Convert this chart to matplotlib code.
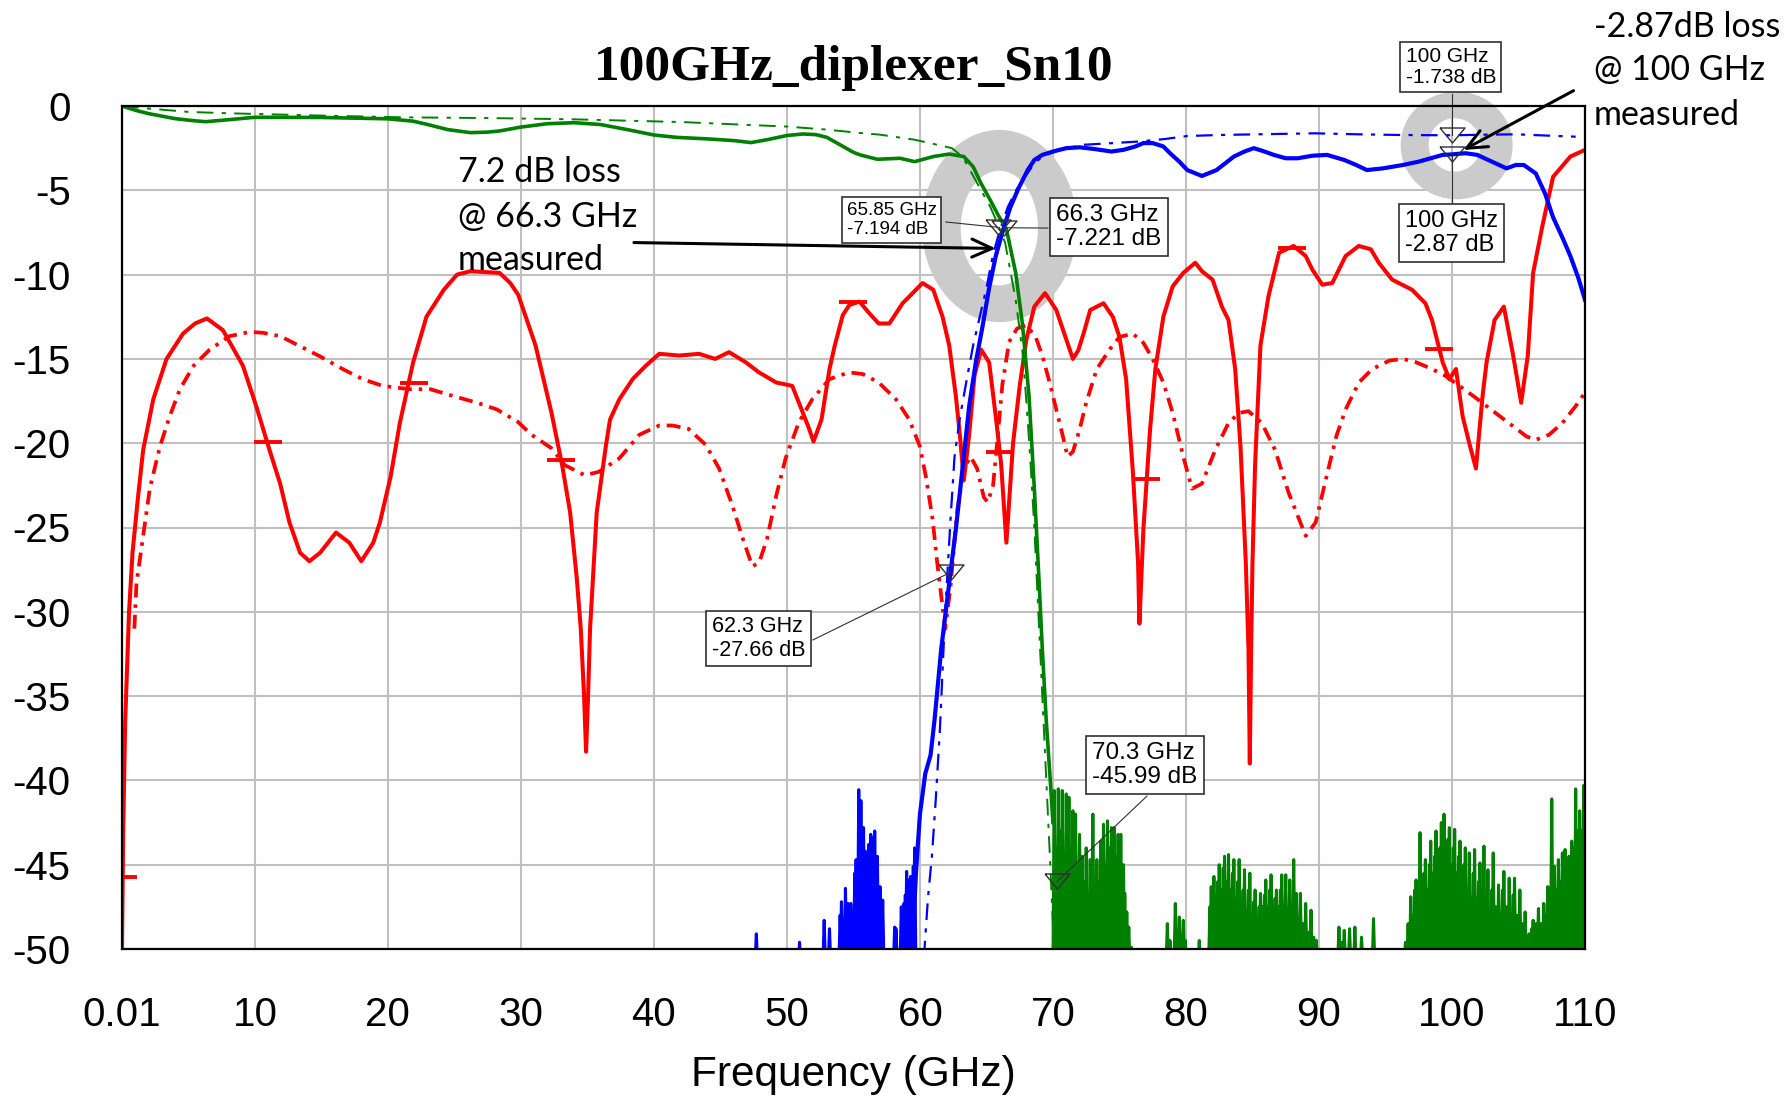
import numpy as np
import matplotlib

matplotlib.use("Agg")
import matplotlib.pyplot as plt
from matplotlib.path import Path
from matplotlib.patches import PathPatch

plt.rcParams["axes.unicode_minus"] = False
plt.rcParams["lines.scale_dashes"] = False

# S21 measured (low band, green solid)
s21_f = [0.01, 1, 2, 3, 4, 5.5, 6.3, 7.5, 10, 15, 20, 21.9, 23, 24.5, 26.2, 27.5, 28.4,
         30, 32, 34, 36, 38, 40, 41.7, 44, 46, 47.3, 48.5, 50, 51.2, 52.2, 53, 54, 55,
         55.5, 56.8, 58.5, 59.6, 61, 62.2, 63.3, 64.0, 64.6, 65.3, 65.9, 66.5, 67.2,
         67.7, 68.2, 68.6, 68.95, 69.2, 69.5, 69.8, 70.0]
s21_db = [0.0, -0.25, -0.45, -0.6, -0.75, -0.88, -0.93, -0.85, -0.67, -0.68, -0.76, -0.9,
          -1.1, -1.4, -1.58, -1.55, -1.48, -1.25, -1.05, -0.99, -1.1, -1.4, -1.72, -1.86,
          -1.95, -2.05, -2.17, -2.0, -1.75, -1.66, -1.7, -1.86, -2.3, -2.75, -2.9, -3.16,
          -3.1, -3.3, -3.0, -2.85, -3.0, -3.6, -4.6, -5.6, -6.5, -7.3, -9.9, -12.9, -17.2,
          -22.7, -28.1, -32.2, -36.5, -40.0, -42.5]

# S21 measured noise floor above 70 GHz (spike tops)
s21_noise_f = [70.1, 70.25, 70.4, 70.55, 70.7, 70.85, 71.0, 71.1, 71.2, 71.35, 71.5, 71.6,
               71.7, 71.85, 72.0, 72.1, 72.2, 72.35, 72.5, 72.65, 72.8, 73.0, 73.15, 73.3,
               73.45, 73.6, 73.8, 73.95, 74.1, 74.25, 74.4, 74.5, 74.6, 74.75, 74.9, 75.0,
               75.1, 75.3, 75.4, 75.55, 75.7, 75.9,
               78.6, 78.8, 79.2, 79.35, 79.5, 79.8, 79.95, 81.0,
               81.8, 81.9, 82.0, 82.1, 82.25, 82.4, 82.5, 82.65, 82.8, 82.9, 83.05, 83.2,
               83.35, 83.5, 83.6, 83.75, 83.9, 84.0, 84.15, 84.3, 84.4, 84.55, 84.7, 84.8,
               84.95, 85.1, 85.2, 85.35, 85.5, 85.6, 85.75, 85.9, 86.0, 86.15, 86.3, 86.4,
               86.55, 86.7, 86.8, 86.95, 87.1, 87.2, 87.35, 87.5, 87.65, 87.8, 87.95, 88.1,
               88.2, 88.3, 88.45, 88.6, 88.8, 89.0, 89.2, 89.4, 89.6, 89.8,
               91.5, 91.7, 91.9, 92.3, 92.7, 93.2, 94.1,
               96.5, 96.7, 96.9, 97.05, 97.2, 97.3, 97.45, 97.6, 97.75, 97.9, 98.0, 98.15,
               98.3, 98.4, 98.55, 98.7, 98.8, 98.95, 99.1, 99.2, 99.3, 99.4, 99.55, 99.7,
               99.8, 99.95, 100.1, 100.2, 100.35, 100.5, 100.6, 100.75, 100.9, 101.0,
               101.15, 101.3, 101.45, 101.6, 101.7, 101.85, 102.0, 102.1, 102.25, 102.4,
               102.55, 102.7, 102.85, 103.0, 103.1, 103.3, 103.5, 103.65, 103.8, 103.9,
               104.1, 104.3, 104.45, 104.6, 104.7, 104.9, 105.1, 105.3, 105.5, 105.65,
               105.8, 106.0, 106.1, 106.3, 106.5, 106.7, 106.9, 107.05, 107.2, 107.35,
               107.5, 107.6, 107.7, 107.85, 108.0, 108.15, 108.3, 108.4, 108.5, 108.65,
               108.8, 108.9, 109.0, 109.15, 109.3, 109.45, 109.6, 109.75, 109.9, 110.0]
s21_noise_db = [-40.6, -44.0, -40.5, -43.0, -40.6, -45.0, -40.8, -46.0, -41.0, -44.0, -41.8,
                -46.0, -42.0, -45.0, -43.2, -48.0, -44.5, -46.0, -44.0, -47.0, -44.7, -42.0,
                -46.5, -44.7, -46.0, -43.6, -42.6, -45.0, -42.4, -44.0, -42.8, -45.5, -42.8,
                -44.5, -43.2, -45.0, -43.2, -45.0, -46.7, -47.8, -48.7, -49.9,
                -48.5, -49.5, -47.3, -48.8, -48.1, -48.3, -49.5, -49.5,
                -47.5, -46.3, -47.5, -45.7, -46.8, -46.0, -45.0, -46.5, -45.2, -44.5, -46.0,
                -44.4, -46.5, -45.5, -44.7, -47.0, -46.0, -44.7, -47.5, -46.5, -45.3, -48.0,
                -46.5, -45.5, -48.0, -47.2, -46.5, -48.5, -47.5, -46.7, -47.5, -46.8, -45.9,
                -47.5, -46.5, -45.6, -48.0, -47.0, -46.5, -47.5, -46.5, -45.6, -47.5, -45.6,
                -48.0, -45.9, -48.5, -44.7, -48.0, -46.7, -48.5, -46.7, -48.5, -47.3, -49.0,
                -47.7, -49.3, -49.5,
                -48.7, -49.6, -48.9, -48.8, -48.7, -49.3, -48.2,
                -49.6, -48.5, -46.9, -48.0, -46.5, -45.9, -47.0, -43.1, -46.0, -45.5, -44.7,
                -46.5, -45.0, -43.6, -45.5, -44.5, -43.0, -45.0, -44.0, -42.5, -44.5, -42.0,
                -44.0, -43.5, -42.8, -45.0, -44.0, -42.9, -45.5, -44.5, -43.6, -46.0, -45.0,
                -44.0, -46.5, -44.3, -47.0, -45.5, -44.1, -47.0, -46.0, -44.9, -47.5, -43.9,
                -47.0, -45.3, -48.0, -46.5, -44.3, -47.5, -46.2, -48.0, -46.5, -45.4, -47.5,
                -45.8, -48.0, -46.8, -45.8, -48.0, -46.5, -48.5, -47.8, -49.2, -49.1, -48.8,
                -48.3, -48.5, -47.6, -48.5, -47.3, -48.0, -46.3, -47.5, -41.1, -46.5, -45.1,
                -46.5, -44.7, -46.0, -44.3, -46.0, -44.1, -45.5, -44.5, -45.0, -43.6, -44.0,
                -40.5, -43.0, -41.8, -43.0, -40.3, -41.0]

# S21 simulated (green dash-dot)
s21_sim_f = [0.01, 2, 5, 8, 14, 21, 28, 34, 42, 50, 53, 55.5, 57, 59.6, 61.3, 62.4, 63.2,
             63.9, 64.6, 65.3, 65.85, 66.4, 67.2, 67.7, 68.0, 68.3, 68.6, 68.9, 69.2, 69.5,
             69.8, 70.1]
s21_sim_db = [0.0, -0.15, -0.35, -0.43, -0.55, -0.67, -0.72, -0.79, -0.95, -1.22, -1.4,
              -1.6, -1.7, -2.0, -2.3, -2.5, -3.0, -4.0, -5.0, -6.0, -7.0, -8.1, -11.5, -14.5,
              -17.5, -21.0, -25.0, -30.0, -35.0, -40.0, -45.0, -50.5]

# S31 measured (high band, blue solid)
s31_f = [59.4, 59.7, 60.0, 60.4, 60.8, 61.1, 61.6, 62.0, 62.3, 62.7, 63.2, 63.7, 64.2, 64.7,
         65.2, 65.7, 66.3, 66.8, 67.4, 68.1, 68.6, 69.2, 70.0, 71.0, 72.0, 73.1, 74.4, 75.3,
         76.2, 76.8, 77.5, 78.3, 78.8, 79.5, 80.1, 81.2, 82.3, 83.6, 84.4, 85.1, 85.9, 86.6,
         87.5, 88.4, 89.5, 90.6, 91.9, 92.8, 93.6, 94.8, 96.3, 97.5, 98.4, 99.3, 100.0,
         101.0, 101.9, 103.0, 104.1, 104.8, 105.4, 106.3, 107.0, 107.6, 108.3, 108.9, 109.5,
         110.0]
s31_db = [-50.5, -45.5, -42.0, -39.6, -38.5, -36.4, -32.2, -29.6, -27.66, -25.1, -21.5,
          -17.8, -15.2, -13.1, -10.8, -8.9, -7.221, -6.0, -4.9, -3.8, -3.2, -2.9, -2.7, -2.5,
          -2.45, -2.55, -2.7, -2.6, -2.4, -2.2, -2.2, -2.4, -2.8, -3.3, -3.8, -4.15, -3.8,
          -3.0, -2.7, -2.5, -2.7, -2.9, -3.1, -3.1, -2.95, -2.9, -3.2, -3.5, -3.8, -3.7, -3.5,
          -3.3, -3.1, -2.9, -2.87, -2.8, -2.9, -3.3, -3.7, -3.5, -3.5, -4.0, -5.2, -6.6, -7.8,
          -8.9, -10.2, -11.5]

# S31 measured noise below 60 GHz (spike tops)
s31_noise_f = [47.7, 50.95, 52.8, 53.2, 54.0, 54.1, 54.25, 54.4, 54.5, 54.6, 54.7, 54.8,
               54.95, 55.1, 55.2, 55.3, 55.4, 55.5, 55.56, 55.65, 55.76, 55.85, 55.9, 56.0,
               56.1, 56.15, 56.3, 56.4, 56.45, 56.55, 56.6, 56.7, 56.8, 56.9, 57.0, 57.1,
               57.2, 58.1, 58.2, 58.6, 58.7, 58.8, 58.9, 59.0, 59.1, 59.2, 59.3, 59.4, 59.5,
               59.6]
s31_noise_db = [-49.1, -49.6, -48.3, -48.8, -48.0, -47.2, -48.2, -46.4, -47.8, -47.3, -48.5,
                -47.3, -47.8, -45.5, -44.7, -46.5, -40.55, -43.0, -41.2, -44.5, -42.8, -45.5,
                -44.2, -44.4, -46.5, -43.8, -43.2, -45.5, -43.4, -46.0, -43.0, -45.5, -44.5,
                -47.0, -46.3, -48.0, -47.1, -48.7, -48.8, -47.5, -48.5, -47.3, -46.8, -45.4,
                -46.5, -45.9, -45.7, -46.5, -45.1, -44.0]

# S31 simulated (blue dash-dot)
s31_sim_f = [60.3, 60.6, 60.9, 61.2, 61.5, 61.9, 62.3, 62.6, 63.0, 63.5, 64.0, 64.5, 65.0,
             65.5, 66.0, 66.6, 67.3, 67.9, 68.6, 69.2, 70.5, 72.3, 74.5, 76.6, 78.5, 80.1,
             82.5, 85.3, 89.7, 93.0, 96.2, 100.0, 102.5, 104.9, 107.0, 109.3]
s31_sim_db = [-50.5, -47.0, -44.5, -41.0, -37.0, -30.0, -24.5, -20.8, -18.5, -16.3, -14.2,
              -12.5, -10.8, -8.8, -7.4, -6.0, -4.9, -4.2, -3.4, -3.0, -2.6, -2.3, -2.2, -2.1,
              -1.95, -1.78, -1.72, -1.68, -1.62, -1.68, -1.72, -1.738, -1.7, -1.68, -1.75,
              -1.82]

# S11 measured (red solid)
s11_f = [0.01, 0.1, 0.25, 0.54, 0.8, 1.2, 1.6, 2.36, 3.36, 4.6, 5.5, 6.4, 7.6, 9.1, 10.1,
         11.1, 11.9, 12.6, 13.4, 14.1, 14.9, 16.1, 17.1, 18.0, 18.9, 19.4, 20.2, 20.9, 21.9,
         22.9, 24.2, 25.2, 26.2, 28.4, 29.2, 29.8, 31.1, 32.3, 33.1, 33.7, 34.2, 34.5, 34.75,
         34.9, 35.05, 35.2, 35.7, 36.4, 36.7, 37.4, 38.4, 39.4, 40.4, 41.9, 43.4, 44.6,
         45.65, 46.9, 47.9, 49.2, 50.4, 51.1, 51.6, 52.0, 52.6, 53.2, 53.6, 54.2, 54.7,
         55.45, 56.2, 56.9, 57.7, 58.7, 60.2, 61.0, 61.7, 62.2, 62.7, 63.0, 63.3, 63.7, 64.1,
         64.6, 65.2, 65.7, 66.1, 66.5, 67.0, 67.5, 68.0, 68.6, 69.4, 69.75, 70.25, 71.0,
         71.5, 71.9, 72.3, 72.8, 73.8, 74.5, 75.0, 75.5, 76.0, 76.4, 76.5, 76.8, 77.3, 77.7,
         78.3, 79.0, 79.8, 80.7, 81.2, 82.0, 82.7, 83.2, 83.7, 84.1, 84.5, 84.7, 84.8, 84.9,
         85.0, 85.2, 85.6, 86.2, 87.0, 88.1, 89.0, 89.5, 90.25, 91.0, 92.0, 93.0, 93.9, 94.5,
         95.5, 97.0, 98.0, 98.5, 99.3, 99.8, 100.3, 100.8, 101.3, 101.8, 102.3, 102.6, 103.2,
         103.9, 104.6, 105.2, 105.7, 106.1, 106.8, 107.6, 108.9, 110.0]
s11_db = [-50.0, -43.0, -36.5, -30.0, -26.5, -23.3, -20.4, -17.4, -15.0, -13.5, -12.9, -12.6,
          -13.3, -15.4, -17.8, -20.4, -22.4, -24.7, -26.5, -27.0, -26.5, -25.3, -25.9, -27.0,
          -25.9, -24.7, -22.0, -18.8, -15.2, -12.5, -10.9, -10.0, -9.8, -9.9, -10.5, -11.2,
          -14.2, -18.2, -21.3, -24.1, -28.0, -31.0, -35.0, -38.3, -35.0, -31.0, -24.1, -20.1,
          -18.6, -17.4, -16.2, -15.4, -14.7, -14.8, -14.7, -15.0, -14.6, -15.2, -15.8, -16.4,
          -16.6, -18.0, -19.0, -19.9, -18.6, -15.6, -14.2, -12.4, -11.8, -11.6, -12.3, -12.9,
          -12.9, -11.7, -10.5, -10.9, -12.5, -14.2, -17.2, -19.5, -22.2, -19.5, -16.0, -14.45,
          -15.2, -18.4, -21.2, -25.9, -20.0, -16.6, -13.85, -11.9, -11.1, -11.5, -12.1, -13.85,
          -15.0, -14.5, -13.5, -12.1, -11.7, -12.5, -13.7, -16.2, -21.6, -27.1, -30.7, -25.1,
          -19.2, -15.6, -12.5, -10.7, -9.9, -9.3, -9.8, -10.3, -11.9, -12.7, -15.6, -20.2,
          -27.1, -32.2, -39.0, -32.2, -27.1, -21.2, -14.2, -11.3, -8.7, -8.3, -8.9, -9.7,
          -10.6, -10.5, -8.9, -8.3, -8.5, -9.3, -10.3, -10.9, -11.7, -12.7, -15.2, -16.2,
          -15.6, -18.4, -20.0, -21.5, -17.2, -15.2, -12.7, -11.9, -14.8, -17.6, -14.8, -9.9,
          -7.1, -4.2, -3.0, -2.6]

# S11 simulated (red dash-dot)
s11_sim_f = [0.94, 1.1, 1.6, 2.1, 2.86, 3.6, 4.36, 5.4, 6.6, 8.1, 9.6, 10.6, 11.9, 13.4,
             14.9, 16.6, 18.1, 19.6, 21.65, 23.2, 24.9, 26.7, 28.2, 29.8, 30.8, 32.3, 33.3,
             34.8, 35.85, 37.4, 38.9, 40.4, 41.4, 42.6, 43.9, 44.9, 45.9, 46.7, 47.4, 47.9,
             48.5, 49.2, 49.9, 50.9, 51.9, 53.2, 53.9, 54.7, 55.7, 56.9, 58.2, 59.2, 60.0,
             60.45, 60.95, 61.3, 61.9, 62.3, 62.8, 63.3, 63.8, 64.3, 64.8, 65.1, 65.5, 65.8,
             66.2, 66.7, 67.3, 68.0, 68.7, 69.2, 69.75, 70.25, 70.75, 71.1, 71.5, 72.0, 72.5,
             73.3, 74.3, 75.0, 76.0, 76.8, 77.5, 78.3, 79.0, 79.8, 80.45, 81.2, 82.2, 83.2,
             84.0, 84.7, 85.7, 86.7, 87.7, 88.5, 89.0, 89.75, 90.5, 91.3, 92.0, 93.0, 94.0,
             95.3, 96.3, 97.3, 98.5, 99.5, 100.55, 101.6, 102.6, 103.6, 104.6, 105.6, 106.3,
             107.3, 108.3, 109.3, 110.0]
s11_sim_db = [-31.0, -28.3, -25.5, -22.7, -20.2, -18.4, -16.8, -15.4, -14.45, -13.65, -13.4,
              -13.45, -13.65, -14.25, -14.85, -15.6, -16.2, -16.6, -16.8, -16.8, -17.2, -17.6,
              -18.0, -18.75, -19.5, -20.3, -21.3, -21.9, -21.7, -20.9, -19.5, -18.95, -18.95,
              -19.15, -20.1, -21.5, -23.7, -25.7, -27.3, -27.1, -25.7, -23.1, -20.9, -18.75,
              -17.4, -16.2, -16.0, -15.8, -15.9, -16.4, -17.4, -18.6, -20.2, -22.0, -24.5,
              -27.1, -31.0, -28.5, -24.0, -21.5, -20.8, -21.5, -23.2, -23.5, -22.5, -20.0,
              -16.5, -14.0, -13.2, -13.0, -13.7, -14.8, -16.4, -18.0, -19.6, -20.8, -20.5,
              -19.2, -17.6, -15.6, -14.4, -13.7, -13.5, -14.05, -15.0, -16.4, -18.2, -20.8,
              -22.7, -22.4, -20.4, -18.8, -18.2, -18.1, -18.8, -20.4, -22.9, -24.5, -25.5,
              -24.7, -22.2, -19.6, -18.0, -16.4, -15.6, -15.1, -15.0, -15.2, -15.6, -16.0,
              -16.6, -17.2, -17.8, -18.4, -19.0, -19.6, -19.8, -19.5, -18.8, -17.8, -17.0]

# red horizontal marker bars on the S11 traces
bar_f = [0.1, 11.0, 22.0, 33.0, 55.0, 66.0, 77.0, 88.0, 99.0]
bar_db = [-45.7, -19.9, -16.4, -21.0, -11.6, -20.5, -22.1, -8.45, -14.4]

# readout markers: frequency (GHz), level (dB)
mk_f = [65.85, 66.3, 100.0, 100.0, 62.3, 70.3]
mk_db = [-7.194, -7.221, -1.738, -2.87, -27.66, -45.99]

x_ticks = [0.01, 10, 20, 30, 40, 50, 60, 70, 80, 90, 100, 110]
x_labels = ["0.01", "10", "20", "30", "40", "50", "60", "70", "80", "90", "100", "110"]
y_ticks = [0, -5, -10, -15, -20, -25, -30, -35, -40, -45, -50]

RED, BLUE, GREEN = "#ff0000", "#0000ff", "#008000"
EDGE = "#303030"


def spikes(f, db, floor=-51.0, half=0.1):
    """Turn spike tops into a comb that drops to below the plot floor."""
    xs, ys = [], []
    for fi, di in zip(f, db):
        xs += [fi - half, fi, fi + half]
        ys += [floor, di, floor]
    return xs, ys


def ring(ax, center, outer, inner, inner_center=None, **kw):
    t = np.linspace(0, 2 * np.pi, 181)
    xc, yc = center
    ixc, iyc = inner_center or center
    ox = xc + outer[0] / 2 * np.cos(t)
    oy = yc + outer[1] / 2 * np.sin(t)
    ix = ixc + inner[0] / 2 * np.cos(t[::-1])
    iy = iyc + inner[1] / 2 * np.sin(t[::-1])
    verts = np.concatenate([np.c_[ox, oy], np.c_[ix, iy]])
    codes = np.full(len(verts), Path.LINETO)
    codes[0] = Path.MOVETO
    codes[len(t)] = Path.MOVETO
    ax.add_patch(PathPatch(Path(verts, codes), **kw))


fig = plt.figure(figsize=(17.9, 10.97), dpi=100)
ax = fig.add_axes([122 / 1790, 1 - 949 / 1097, 1463 / 1790, 843 / 1097])
ax.set_xlim(0.01, 110)
ax.set_ylim(-50, 0)

ax.set_axisbelow(True)
ax.grid(True, color="#c0c0c0", lw=1.5)
for sp in ax.spines.values():
    sp.set_color("black")
    sp.set_linewidth(1.6)
    sp.set_zorder(8)

ax.set_xticks(x_ticks)
ax.set_xticklabels(x_labels)
ax.set_yticks(y_ticks)
ax.set_yticklabels([str(v) for v in y_ticks])
ax.tick_params(axis="both", length=0, labelsize=29)
ax.tick_params(axis="x", pad=34)
ax.tick_params(axis="y", pad=37)
for lab in ax.get_xticklabels() + ax.get_yticklabels():
    lab.set_family("Liberation Sans")

ax.set_title("100GHz_diplexer_Sn10", fontsize=37, fontweight="bold",
             family="Liberation Serif", pad=19)
ax.set_xlabel("Frequency (GHz)", fontsize=30.5, family="Liberation Sans", labelpad=15)

# highlight rings around the crossover and the 100 GHz readout
ring(ax, (65.97, -7.12), (11.65, 11.4), (5.8, 6.8), (65.97, -7.24),
     fc="#cbcbcb", ec="none", zorder=1)
ring(ax, (100.35, -2.34), (8.42, 6.38), (3.9, 3.17), (100.2, -2.31),
     fc="#cbcbcb", ec="none", zorder=1, clip_on=False)

dashdot_r = (10, 5, 2.5, 5)
dashdot_b = (12, 6, 3, 6)

ax.plot(s11_sim_f, s11_sim_db, color=RED, lw=2.7, dashes=dashdot_r, zorder=2)
ax.plot(s11_f, s11_db, color=RED, lw=2.9, zorder=2.5)
ax.plot(bar_f, bar_db, ls="none", marker="_", ms=20, mew=2.8, color=RED, zorder=2.6)

ax.plot(s21_sim_f, s21_sim_db, color=GREEN, lw=1.4, dashes=dashdot_b, zorder=3)
ax.plot(s31_sim_f, s31_sim_db, color=BLUE, lw=1.6, dashes=dashdot_b, zorder=3)

ax.plot(s21_f, s21_db, color=GREEN, lw=2.6, zorder=4)
nx, ny = spikes(s21_noise_f, s21_noise_db)
ax.plot(nx, ny, color=GREEN, lw=2.2, zorder=4)

ax.plot(s31_f, s31_db, color=BLUE, lw=3.0, zorder=4.2)
nx, ny = spikes(s31_noise_f, s31_noise_db)
ax.plot(nx, ny, color=BLUE, lw=2.2, zorder=4.2)

# readout boxes with leader lines
leaders = [((61.95, -6.88), (65.85, -7.194)),
           ((69.62, -7.24), (66.3, -7.221)),
           ((100.0, 0.71), (100.0, -1.738)),
           ((100.0, -5.69), (100.0, -2.87)),
           ((51.95, -31.67), (62.3, -27.66)),
           ((77.07, -40.93), (70.3, -45.99))]
for (x0, y0), (x1, y1) in leaders:
    ax.plot([x0, x1], [y0, y1], color=EDGE, lw=0.8, zorder=5, clip_on=False)

tri = [(-1, 0.6), (1, 0.6), (0, -0.6), (-1, 0.6)]
ax.plot(mk_f, mk_db, ls="none", marker=tri, ms=18, mfc="none", mec=EDGE, mew=1.0,
        zorder=7, clip_on=False)

boxes = [(57.89, -6.76, "65.85 GHz\n-7.194 dB", 13.5),
         (74.21, -7.18, "66.3 GHz\n-7.221 dB", 17.5),
         (99.92, 2.31, "100 GHz\n-1.738 dB", 15),
         (99.96, -7.53, "100 GHz\n-2.87 dB", 17),
         (47.86, -31.58, "62.3 GHz\n-27.66 dB", 15.5),
         (76.92, -39.09, "70.3 GHz\n-45.99 dB", 17.5)]
for bx, by, txt, fs in boxes:
    ax.text(bx, by, txt, ha="center", va="center", multialignment="left", fontsize=fs,
            family="Liberation Sans", linespacing=1.15, zorder=6, clip_on=False,
            bbox=dict(boxstyle="square,pad=0.25", fc="white", ec=EDGE, lw=1.2))

# call-outs
for y, s in zip([-4.51, -7.18, -9.73], ["7.2 dB loss", "@ 66.3 GHz", "measured"]):
    ax.text(25.26, y, s, fontsize=24.5, family="Lato", va="baseline", ha="left", zorder=6)
for y, s in zip([4.1, 1.52, -1.13], ["-2.87dB loss", "@ 100 GHz", "measured"]):
    ax.text(110.68, y, s, fontsize=24.5, family="Lato", va="baseline", ha="left",
            zorder=6, clip_on=False)

arrow = dict(arrowstyle="->,head_length=1.45,head_width=0.65", lw=2.2, color="black",
             shrinkA=0, shrinkB=0)
ax.annotate("", xy=(65.7, -8.45), xytext=(38.5, -8.1), arrowprops=arrow, zorder=6)
ax.annotate("", xy=(100.85, -2.61), xytext=(109.14, 0.91), arrowprops=arrow, zorder=6,
            annotation_clip=False)

fig.savefig("out.png", dpi=100)
